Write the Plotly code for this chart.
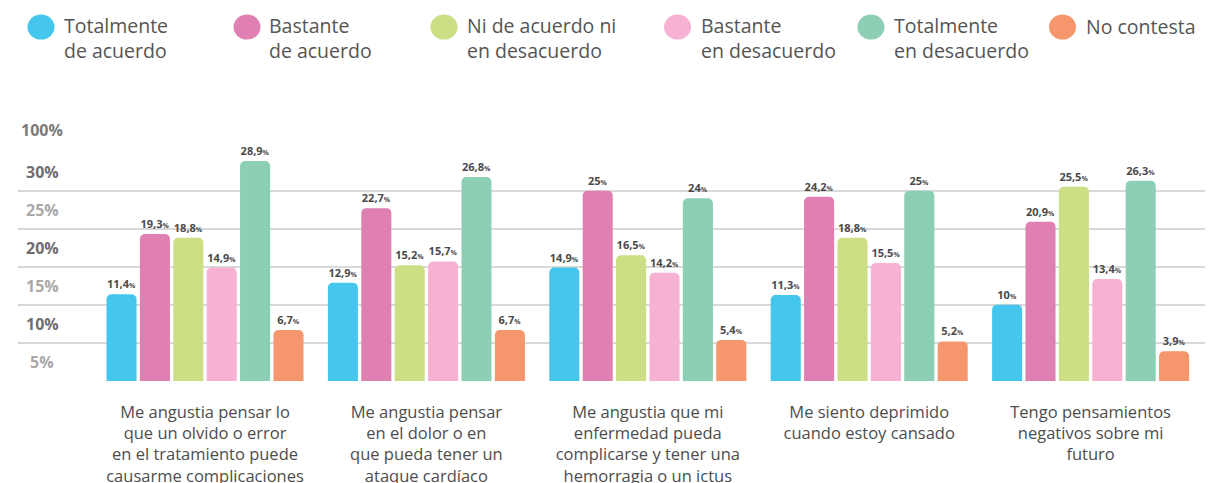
import plotly.graph_objects as go

categories = [
    "Me angustia pensar lo<br>que un olvido o error<br>en el tratamiento puede<br>causarme complicaciones",
    "Me angustia pensar<br>en el dolor o en<br>que pueda tener un<br>ataque cardíaco",
    "Me angustia que mi<br>enfermedad pueda<br>complicarse y tener una<br>hemorragia o un ictus",
    "Me siento deprimido<br>cuando estoy cansado",
    "Tengo pensamientos<br>negativos sobre mi<br>futuro",
]
series_names = [
    "Totalmente<br>de acuerdo",
    "Bastante<br>de acuerdo",
    "Ni de acuerdo ni<br>en desacuerdo",
    "Bastante<br>en desacuerdo",
    "Totalmente<br>en desacuerdo",
    "No contesta",
]
totalmente_acuerdo = [11.4, 12.9, 14.9, 11.3, 10]
bastante_acuerdo = [19.3, 22.7, 25, 24.2, 20.9]
ni_acuerdo = [18.8, 15.2, 16.5, 18.8, 25.5]
bastante_desacuerdo = [14.9, 15.7, 14.2, 15.5, 13.4]
totalmente_desacuerdo = [28.9, 26.8, 24, 25, 26.3]
no_contesta = [6.7, 6.7, 5.4, 5.2, 3.9]
series_values = [totalmente_acuerdo, bastante_acuerdo, ni_acuerdo,
                 bastante_desacuerdo, totalmente_desacuerdo, no_contesta]
colors = ["#45C6EC", "#E07FB2", "#CCDF85", "#F6B1D3", "#8DCFB5", "#F6966C"]

ytick_vals = [2.5, 7.5, 12.5, 17.5, 22.5, 27.5, 32.9]
ytick_text = ["5%", "10%", "15%", "20%", "25%", "30%", "100%"]
ytick_colors = ["#a9a9a9", "#6e6e6e", "#a9a9a9", "#6e6e6e", "#a9a9a9", "#6e6e6e", "#7a7a7a"]
grid_vals = [0, 5, 10, 15, 20, 25, 35.7]

# page has an 8px body margin: work in page pixels, convert to figure pixels
OFF = 8
W, H = 1213 - OFF, 483 - OFF
PLOT_L, PLOT_R, PLOT_T, PLOT_B = 18, 1213, 109.3, 380.7   # page pixels
ML = PLOT_L - OFF
MR = (1213 - OFF) - (PLOT_R - OFF)
MT = PLOT_T - OFF
MB = H - (PLOT_B - OFF)
PW, PH = PLOT_R - PLOT_L, PLOT_B - PLOT_T


def px_x(px):
    return (px - PLOT_L) / PW


def px_y(py):
    return (PLOT_B - py) / PH


def fmt(v):
    s = f"{v:g}".replace(".", ",")
    return f"<b>{s}</b><span style='font-size:7px'><b>%</b></span>"


FONT = "Open Sans"
fig = go.Figure()
for name, vals, col in zip(series_names, series_values, colors):
    fig.add_trace(go.Bar(
        x=categories, y=vals, name=name.replace("<br>", " "),
        marker=dict(color=col, line=dict(width=0)),
        text=[fmt(v) for v in vals], textposition="outside",
        textfont=dict(family=FONT, size=11, color="#4a4a4a"),
        constraintext="none", cliponaxis=False, showlegend=False,
        hoverinfo="skip",
    ))

annotations = []
# y labels
for v, t, c in zip(ytick_vals, ytick_text, ytick_colors):
    annotations.append(dict(x=px_x(42), xref="paper", y=v, yref="y", text=f"<b>{t}</b>",
                            showarrow=False, xanchor="center", yanchor="middle",
                            font=dict(family=FONT, size=16, color=c)))

# legend (drawn manually)
circle_cx = [41, 247, 444, 677.5, 871, 1062.5]
text_x = [62, 267, 465, 699, 892, 1084]
shapes = []
for name, col, cx, tx in zip(series_names, colors, circle_cx, text_x):
    shapes.append(dict(type="circle", xref="paper", yref="paper",
                       x0=px_x(cx - 13.5), x1=px_x(cx + 13.5),
                       y0=px_y(40), y1=px_y(15),
                       fillcolor=col, line=dict(width=0)))
    two = "<br>" in name
    annotations.append(dict(x=px_x(tx), xref="paper", y=px_y(38.5 if two else 27), yref="paper",
                            text=name, showarrow=False, xanchor="left", yanchor="middle",
                            align="left",
                            font=dict(family=FONT, size=19.5, color="#555555")))

fig.update_layout(
    width=W, height=H,
    margin=dict(l=ML, r=MR, t=MT, b=MB, pad=0, autoexpand=False),
    paper_bgcolor="white", plot_bgcolor="white",
    barmode="group", bargap=0.095, bargroupgap=0.1, barcornerradius=5,
    showlegend=False,
    xaxis=dict(range=[(18 - 205) / 221.4, (1213 - 205) / 221.4],
               showgrid=False, zeroline=False, showline=False, ticks="",
               automargin=False,
               tickfont=dict(family=FONT, size=16.5, color="#4d4d4d"),
               ticklabelstandoff=19),
    yaxis=dict(range=[0, 35.72], tickvals=grid_vals, showticklabels=False,
               automargin=False,
               showgrid=True, gridcolor="#d9d9d9", gridwidth=1.5,
               zeroline=False, showline=False, ticks=""),
    annotations=annotations,
    shapes=shapes,
)

fig.write_html("out.html")
